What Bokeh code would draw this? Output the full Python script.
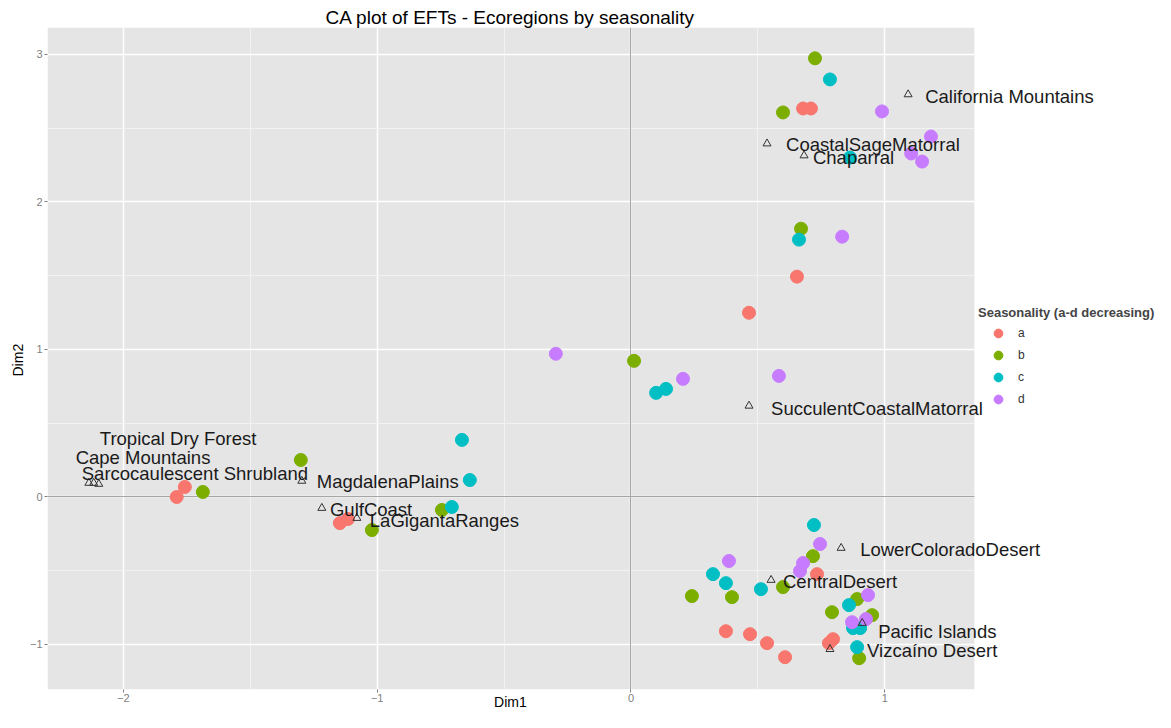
from bokeh.plotting import figure
from bokeh.models import (Range1d, FixedTicker, Legend, LegendItem, ColumnDataSource, LabelSet, Label,
                          BoxAnnotation, Grid, Title)
from bokeh.embed import file_html
from bokeh.resources import INLINE
from bokeh.core.properties import value

# ---- data ----
seasons = ["a", "b", "c", "d"]
season_colors = ["#F8766D", "#7CAE00", "#00BFC4", "#C77CFF"]

a_dim1 = [0.678, 0.709, 0.654, 0.465, -1.758, -1.790, -1.147, -1.115, 0.733, 0.374, 0.469, 0.536, 0.607, 0.796, 0.780]
a_dim2 = [2.634, 2.634, 1.494, 1.249, 0.068, 0.000, -0.177, -0.149, -0.523, -0.910, -0.930, -0.991, -1.086, -0.964, -0.991]

b_dim1 = [0.725, 0.599, 0.670, 0.012, -1.301, -1.687, -0.745, -1.021, 0.717, 0.599, 0.240, 0.398, 0.891, 0.792, 0.950, 0.899]
b_dim2 = [2.974, 2.607, 1.819, 0.923, 0.251, 0.034, -0.088, -0.224, -0.401, -0.611, -0.672, -0.679, -0.692, -0.781, -0.801, -1.093]

c_dim1 = [0.784, 0.863, 0.662, 0.099, 0.138, -0.666, -0.635, -0.706, 0.721, 0.323, 0.374, 0.512, 0.859, 0.903, 0.875, 0.891]
c_dim2 = [2.831, 2.301, 1.745, 0.706, 0.733, 0.387, 0.115, -0.068, -0.190, -0.523, -0.584, -0.625, -0.733, -0.889, -0.889, -1.018]

d_dim1 = [0.989, 1.182, 1.104, 1.147, 0.832, -0.296, 0.205, 0.583, 0.745, 0.678, 0.666, 0.386, 0.934, 0.926, 0.871]
d_dim2 = [2.614, 2.444, 2.329, 2.274, 1.765, 0.971, 0.801, 0.821, -0.319, -0.448, -0.502, -0.434, -0.665, -0.828, -0.849]

eco_names = ["California Mountains", "CoastalSageMatorral", "Chaparral", "SucculentCoastalMatorral",
             "Tropical Dry Forest", "Cape Mountains", "Sarcocaulescent Shrubland", "MagdalenaPlains",
             "GulfCoast", "LaGigantaRanges", "LowerColoradoDesert", "CentralDesert",
             "Pacific Islands", "Vizcaíno Desert"]
eco_dim1 = [1.092, 0.536, 0.682, 0.465, -2.136, -2.097, -2.117, -1.297, -1.218, -1.080, 0.828, 0.552, 0.911, 0.784]
eco_dim2 = [2.729, 2.396, 2.315, 0.618, 0.095, 0.088, 0.095, 0.109, -0.075, -0.143, -0.346, -0.563, -0.855, -1.032]
# label anchor (left edge) of each ecoregion name
lab_dim1 = [1.159, 0.611, 0.717, 0.552, -2.093, -2.188, -2.164, -1.238, -1.186, -1.029, 0.903, 0.599, 0.974, 0.930]
lab_dim2 = [2.716, 2.390, 2.301, 0.597, 0.394, 0.265, 0.156, 0.102, -0.088, -0.156, -0.353, -0.570, -0.910, -1.039]

x_ticks = [-2, -1, 0, 1]
x_minor = [-1.5, -0.5, 0.5]
y_ticks = [-1, 0, 1, 2, 3]
y_minor = [-0.5, 0.5, 1.5, 2.5]

# panel (grey area) limits in data units
PANEL_X = (-2.299, 1.353)
PANEL_Y = (-1.303, 3.183)
PX_PER_X = 253.8
PX_PER_Y = 147.5

FONT = "Liberation Sans"

W, H = 1155, 712
LEFT, TOP = 47, 27
x_end = PANEL_X[0] + (W - LEFT) / PX_PER_X
y_start = PANEL_Y[1] - (H - TOP) / PX_PER_Y

p = figure(width=W, height=H, output_backend="svg", toolbar_location=None,
           x_range=Range1d(PANEL_X[0], x_end), y_range=Range1d(y_start, PANEL_Y[1]),
           min_border_left=LEFT, min_border_right=0, min_border_top=TOP, min_border_bottom=0)

p.background_fill_color = "white"
p.border_fill_color = "white"
p.outline_line_color = None

p.title.text = "CA plot of EFTs - Ecoregions by seasonality"
p.title.align = "left"
p.title.offset = 278
p.title.text_font = FONT
p.title.text_font_size = "19px"
p.title.text_font_style = "normal"
p.title.text_color = "#000000"
p.title.standoff = 0

# grey panel
p.add_layout(BoxAnnotation(left=PANEL_X[0], right=PANEL_X[1], bottom=PANEL_Y[0], top=PANEL_Y[1],
                           fill_color="#E5E5E5", fill_alpha=1.0, line_color=None, level="image"))

for ax, ticks in ((p.xaxis, x_ticks), (p.yaxis, y_ticks)):
    ax.ticker = FixedTicker(ticks=ticks)
    ax.axis_line_color = None
    ax.major_tick_line_color = "#7F7F7F"
    ax.major_tick_out = 3
    ax.major_tick_in = 0
    ax.minor_tick_line_color = None
    ax.major_label_text_color = "#7F7F7F"
    ax.major_label_text_font = FONT
    ax.major_label_text_font_size = "11px"
    ax.major_label_standoff = 2

p.xaxis.fixed_location = PANEL_Y[0]
p.add_layout(Title(text="Dim2", align="left", offset=336, text_font=FONT, text_font_size="14px",
                   text_font_style="normal", text_color="#000000", standoff=2), "left")
p.add_layout(Label(x=-0.475, y=-1.390, text="Dim1", text_align="center", text_baseline="middle",
                   text_font=FONT, text_font_size="14px", text_color="#000000"))

p.xgrid.ticker = FixedTicker(ticks=x_ticks, minor_ticks=x_minor)
p.ygrid.ticker = FixedTicker(ticks=y_ticks, minor_ticks=y_minor)
p.xgrid.cross_bounds = PANEL_Y
p.ygrid.cross_bounds = PANEL_X
for g in (p.xgrid, p.ygrid):
    g.grid_line_color = "white"
    g.grid_line_width = 1.5
    g.minor_grid_line_color = "#F2F2F2"
    g.minor_grid_line_width = 1

# zero reference lines
p.add_layout(Grid(dimension=0, ticker=FixedTicker(ticks=[0]), grid_line_color="#A6A6A6", grid_line_width=1,
                  cross_bounds=PANEL_Y))
p.add_layout(Grid(dimension=1, ticker=FixedTicker(ticks=[0]), grid_line_color="#A6A6A6", grid_line_width=1,
                  cross_bounds=PANEL_X))

series = [(a_dim1, a_dim2), (b_dim1, b_dim2), (c_dim1, c_dim2), (d_dim1, d_dim2)]
items = []
for s, col, (xs, ys) in zip(seasons, season_colors, series):
    r = p.scatter(xs, ys, size=13, fill_color=col, line_color=col, fill_alpha=1.0, line_alpha=1.0)
    items.append(LegendItem(label=s, renderers=[r]))

eco_src = ColumnDataSource(dict(x=eco_dim1, y=eco_dim2, lx=lab_dim1, ly=lab_dim2, name=eco_names))
p.scatter("x", "y", source=eco_src, marker="triangle", size=8, fill_color=None,
          line_color="#333333", line_width=1)
labels = LabelSet(x="lx", y="ly", text="name", source=eco_src, text_font=value(FONT),
                  text_font_size="18.5px", text_align="left", text_baseline="middle", text_color="#1A1A1A")
p.add_layout(labels)

legend = Legend(items=items, title="Seasonality (a-d decreasing)", location=(931, 302))
legend.title_text_font = FONT
legend.title_text_font_style = "bold"
legend.title_text_font_size = "13px"
legend.title_standoff = 2
legend.label_text_font = FONT
legend.label_text_font_size = "12px"
legend.label_text_color = "#333333"
legend.glyph_height = 22
legend.glyph_width = 40
legend.label_standoff = 0
legend.label_height = 22
legend.spacing = 0
legend.padding = 2
legend.margin = 0
legend.border_line_color = None
legend.background_fill_alpha = 0
p.add_layout(legend)

open("out.html", "w").write(file_html(p, INLINE))
